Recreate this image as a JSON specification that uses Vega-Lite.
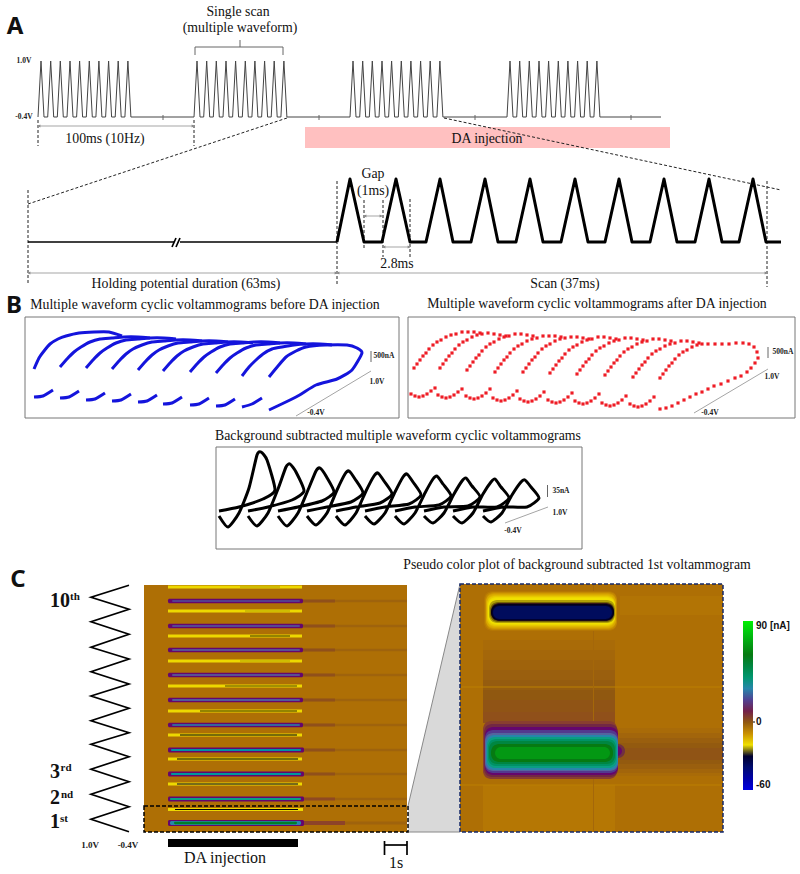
{"$schema":"https://vega.github.io/schema/vega-lite/v6.json","width":800,"height":874,"padding":0,"autosize":{"type":"fit","contains":"padding"},"background":"white","config":{"view":{"stroke":null}},
"encoding":{"x":{"field":"x","type":"quantitative","scale":{"domain":[0,800],"nice":false,"zero":false},"axis":null},"y":{"field":"y","type":"quantitative","scale":{"domain":[874,0],"nice":false,"zero":false},"axis":null}},
"layer":[
{"data":{"values":[{"x":305,"x2":670,"y":127,"y2":148}]},"mark":{"type":"rect","color":"#ffc0c0"},"encoding":{"x2":{"field":"x2"},"y2":{"field":"y2"}}},
{"data":{"values":[{"x":38,"y":117},{"x":41,"y":61},{"x":44,"y":117},{"x":47.7,"y":117},{"x":50.7,"y":61},{"x":53.7,"y":117},{"x":57.3,"y":117},{"x":60.3,"y":61},{"x":63.3,"y":117},{"x":67,"y":117},{"x":70,"y":61},{"x":73,"y":117},{"x":76.6,"y":117},{"x":79.6,"y":61},{"x":82.6,"y":117},{"x":86.3,"y":117},{"x":89.3,"y":61},{"x":92.3,"y":117},{"x":95.9,"y":117},{"x":98.9,"y":61},{"x":101.9,"y":117},{"x":105.6,"y":117},{"x":108.6,"y":61},{"x":111.6,"y":117},{"x":115.2,"y":117},{"x":118.2,"y":61},{"x":121.2,"y":117},{"x":124.9,"y":117},{"x":127.9,"y":61},{"x":130.9,"y":117},
{"x":194,"y":117},{"x":197,"y":61},{"x":200,"y":117},{"x":203.7,"y":117},{"x":206.7,"y":61},{"x":209.7,"y":117},{"x":213.3,"y":117},{"x":216.3,"y":61},{"x":219.3,"y":117},{"x":223,"y":117},{"x":226,"y":61},{"x":229,"y":117},{"x":232.6,"y":117},{"x":235.6,"y":61},{"x":238.6,"y":117},{"x":242.3,"y":117},{"x":245.3,"y":61},{"x":248.3,"y":117},{"x":251.9,"y":117},{"x":254.9,"y":61},{"x":257.9,"y":117},{"x":261.6,"y":117},{"x":264.6,"y":61},{"x":267.6,"y":117},{"x":271.2,"y":117},{"x":274.2,"y":61},{"x":277.2,"y":117},{"x":280.9,"y":117},{"x":283.9,"y":61},{"x":286.9,"y":117},
{"x":350,"y":117},{"x":353,"y":61},{"x":356,"y":117},{"x":359.7,"y":117},{"x":362.7,"y":61},{"x":365.7,"y":117},{"x":369.3,"y":117},{"x":372.3,"y":61},{"x":375.3,"y":117},{"x":379,"y":117},{"x":382,"y":61},{"x":385,"y":117},{"x":388.6,"y":117},{"x":391.6,"y":61},{"x":394.6,"y":117},{"x":398.3,"y":117},{"x":401.3,"y":61},{"x":404.3,"y":117},{"x":407.9,"y":117},{"x":410.9,"y":61},{"x":413.9,"y":117},{"x":417.6,"y":117},{"x":420.6,"y":61},{"x":423.6,"y":117},{"x":427.2,"y":117},{"x":430.2,"y":61},{"x":433.2,"y":117},{"x":436.9,"y":117},{"x":439.9,"y":61},{"x":442.9,"y":117},
{"x":507,"y":117},{"x":510,"y":61},{"x":513,"y":117},{"x":516.7,"y":117},{"x":519.7,"y":61},{"x":522.7,"y":117},{"x":526.3,"y":117},{"x":529.3,"y":61},{"x":532.3,"y":117},{"x":536,"y":117},{"x":539,"y":61},{"x":542,"y":117},{"x":545.6,"y":117},{"x":548.6,"y":61},{"x":551.6,"y":117},{"x":555.3,"y":117},{"x":558.3,"y":61},{"x":561.3,"y":117},{"x":564.9,"y":117},{"x":567.9,"y":61},{"x":570.9,"y":117},{"x":574.6,"y":117},{"x":577.6,"y":61},{"x":580.6,"y":117},{"x":584.2,"y":117},{"x":587.2,"y":61},{"x":590.2,"y":117},{"x":593.9,"y":117},{"x":596.9,"y":61},{"x":599.9,"y":117},{"x":661,"y":117}]},"mark":{"type":"line","color":"#444","strokeWidth":1},"encoding":{"order":{"value":null}}},
{"data":{"values":[{"i":"a","x":163,"y":115},{"i":"a","x":163,"y":120},{"i":"b","x":319,"y":115},{"i":"b","x":319,"y":120},{"i":"c","x":475,"y":115},{"i":"c","x":475,"y":120},{"i":"d","x":631,"y":115},{"i":"d","x":631,"y":120},{"i":"e","x":195,"y":55},{"i":"e","x":195,"y":47},{"i":"e","x":283,"y":47},{"i":"e","x":283,"y":55},{"i":"f","x":240,"y":47},{"i":"f","x":240,"y":40},{"i":"g","x":371,"y":351},{"i":"g","x":371,"y":362},{"i":"h","x":768,"y":347},{"i":"h","x":768,"y":358},{"i":"j","x":547.5,"y":485},{"i":"j","x":547.5,"y":497}]},"mark":{"type":"line","color":"#666","strokeWidth":1},"encoding":{"detail":{"field":"i"},"order":{"value":null}}},
{"data":{"values":[{"i":"a","x":38,"y":120},{"i":"a","x":38,"y":146},{"i":"b","x":194,"y":120},{"i":"b","x":194,"y":146},{"i":"c","x":287,"y":118},{"i":"c","x":28,"y":204},{"i":"d","x":444,"y":118},{"i":"d","x":781,"y":190},{"i":"e","x":28,"y":190},{"i":"e","x":28,"y":285},{"i":"f","x":337,"y":181},{"i":"f","x":337,"y":285},{"i":"g","x":364,"y":200},{"i":"g","x":364,"y":250},{"i":"h","x":383,"y":200},{"i":"h","x":383,"y":257},{"i":"j","x":410,"y":199},{"i":"j","x":410,"y":257},{"i":"k","x":767,"y":181},{"i":"k","x":767,"y":287}]},"mark":{"type":"line","color":"#222","strokeWidth":1,"strokeDash":[3,2]},"encoding":{"detail":{"field":"i"},"order":{"value":null}}},
{"data":{"values":[{"i":"a","x":38,"y":126},{"i":"a","x":194,"y":126},{"i":"b","x":364,"y":216},{"i":"b","x":382,"y":216},{"i":"c","x":383,"y":247},{"i":"c","x":410,"y":247},{"i":"d","x":28,"y":273},{"i":"d","x":337,"y":273},{"i":"e","x":337,"y":273},{"i":"e","x":767,"y":273},{"i":"f","x":296,"y":416},{"i":"f","x":371,"y":371},{"i":"g","x":694,"y":413},{"i":"g","x":768,"y":369},{"i":"h","x":505,"y":523},{"i":"h","x":548,"y":507}]},"mark":{"type":"line","color":"#a5a5a5","strokeWidth":1},"encoding":{"detail":{"field":"i"},"order":{"value":null}}},
{"data":{"values":[{"d":"l","x":39,"y":126},{"d":"r","x":193,"y":126},{"d":"l","x":365,"y":216},{"d":"r","x":381,"y":216},{"d":"l","x":384,"y":247},{"d":"r","x":409,"y":247},{"d":"l","x":29,"y":273},{"d":"r","x":336,"y":273},{"d":"l","x":338,"y":273},{"d":"r","x":766,"y":273}]},"mark":{"type":"point","filled":true,"color":"#888","opacity":1},"encoding":{"shape":{"field":"d","type":"nominal","scale":{"domain":["l","r"],"range":["triangle-left","triangle-right"]},"legend":null},"size":{"value":10}}},
{"data":{"values":[{"x":337,"y":242},{"x":350,"y":179},{"x":364,"y":242},{"x":382,"y":242},{"x":396,"y":179},{"x":410,"y":242},{"x":426,"y":242},{"x":440,"y":179},{"x":453,"y":242},{"x":471,"y":242},{"x":485,"y":179},{"x":498,"y":242},{"x":516,"y":242},{"x":530,"y":179},{"x":543,"y":242},{"x":561,"y":242},{"x":575,"y":179},{"x":588,"y":242},{"x":605,"y":242},{"x":619,"y":179},{"x":632,"y":242},{"x":650,"y":242},{"x":664,"y":179},{"x":677,"y":242},{"x":695,"y":242},{"x":709,"y":179},{"x":722,"y":242},{"x":739,"y":242},{"x":753,"y":179},{"x":766,"y":242},{"x":781,"y":242}]},"mark":{"type":"line","color":"#000","strokeWidth":3,"strokeJoin":"round"},"encoding":{"order":{"value":null}}},
{"data":{"values":[{"i":"a","x":28,"y":242},{"i":"a","x":174,"y":242},{"i":"b","x":180,"y":242},{"i":"b","x":337,"y":242},{"i":"c","x":172,"y":247},{"i":"c","x":176,"y":238},{"i":"d","x":176,"y":247},{"i":"d","x":180,"y":238},
{"i":"z","x":129,"y":831.7},{"i":"z","x":91,"y":819.3},{"i":"z","x":129,"y":806.7},{"i":"z","x":91,"y":794.3},{"i":"z","x":129,"y":781.7},{"i":"z","x":91,"y":769.3},{"i":"z","x":129,"y":756.7},{"i":"z","x":91,"y":744.3},{"i":"z","x":129,"y":732.7},{"i":"z","x":91,"y":720.7},{"i":"z","x":129,"y":708.3},{"i":"z","x":91,"y":696},{"i":"z","x":129,"y":684},{"i":"z","x":91,"y":671.7},{"i":"z","x":129,"y":659},{"i":"z","x":91,"y":647.3},{"i":"z","x":129,"y":634.3},{"i":"z","x":91,"y":621.7},{"i":"z","x":129,"y":609.3},{"i":"z","x":91,"y":597.3},{"i":"z","x":129,"y":585.3},
{"i":"s","x":384.5,"y":841},{"i":"s","x":384.5,"y":855},{"i":"t","x":407,"y":841},{"i":"t","x":407,"y":855},{"i":"u","x":384.5,"y":845},{"i":"u","x":407,"y":845}]},"mark":{"type":"line","color":"#000","strokeWidth":1.7},"encoding":{"detail":{"field":"i"},"order":{"value":null}}},
{"data":{"values":[{"x":25,"x2":399,"y":317,"y2":418},{"x":408,"x2":795,"y":317,"y2":418},{"x":216,"x2":582,"y":447,"y2":549}]},"mark":{"type":"rect","fill":null,"stroke":"#777","strokeWidth":1},"encoding":{"x2":{"field":"x2"},"y2":{"field":"y2"}}},
{"data":{"values":[
{"i":"0","x":34,"y":369},{"i":"0","x":39,"y":358},{"i":"0","x":44,"y":351},{"i":"0","x":50,"y":344},{"i":"0","x":58,"y":339},{"i":"0","x":66,"y":336},{"i":"0","x":79,"y":333},{"i":"0","x":94,"y":332},{"i":"0","x":109,"y":332},{"i":"0","x":122,"y":336},
{"i":"1","x":60,"y":367},{"i":"1","x":67,"y":359},{"i":"1","x":74,"y":352},{"i":"1","x":81,"y":347},{"i":"1","x":90,"y":342},{"i":"1","x":100,"y":339},{"i":"1","x":112,"y":338},{"i":"1","x":124,"y":337},{"i":"1","x":138,"y":337},{"i":"1","x":150,"y":338},
{"i":"2","x":86,"y":368},{"i":"2","x":93,"y":360},{"i":"2","x":100,"y":353},{"i":"2","x":107,"y":348},{"i":"2","x":116,"y":343},{"i":"2","x":126,"y":340},{"i":"2","x":138,"y":339},{"i":"2","x":150,"y":338},{"i":"2","x":164,"y":338},{"i":"2","x":176,"y":339},
{"i":"3","x":112,"y":369},{"i":"3","x":119,"y":361},{"i":"3","x":126,"y":354},{"i":"3","x":133,"y":349},{"i":"3","x":142,"y":345},{"i":"3","x":152,"y":342},{"i":"3","x":164,"y":341},{"i":"3","x":176,"y":340},{"i":"3","x":190,"y":340},{"i":"3","x":202,"y":341},
{"i":"4","x":138,"y":370},{"i":"4","x":145,"y":362},{"i":"4","x":152,"y":355},{"i":"4","x":159,"y":350},{"i":"4","x":168,"y":346},{"i":"4","x":178,"y":343},{"i":"4","x":190,"y":342},{"i":"4","x":202,"y":341},{"i":"4","x":216,"y":341},{"i":"4","x":228,"y":342},
{"i":"5","x":163,"y":371},{"i":"5","x":170,"y":363},{"i":"5","x":177,"y":356},{"i":"5","x":184,"y":351},{"i":"5","x":193,"y":347},{"i":"5","x":203,"y":344},{"i":"5","x":215,"y":343},{"i":"5","x":227,"y":342},{"i":"5","x":241,"y":342},{"i":"5","x":253,"y":343},
{"i":"6","x":190,"y":372},{"i":"6","x":197,"y":364},{"i":"6","x":204,"y":357},{"i":"6","x":211,"y":352},{"i":"6","x":220,"y":347},{"i":"6","x":230,"y":344},{"i":"6","x":242,"y":343},{"i":"6","x":254,"y":342},{"i":"6","x":268,"y":342},{"i":"6","x":280,"y":343},
{"i":"7","x":216,"y":373},{"i":"7","x":223,"y":365},{"i":"7","x":230,"y":358},{"i":"7","x":237,"y":353},{"i":"7","x":246,"y":348},{"i":"7","x":256,"y":345},{"i":"7","x":268,"y":344},{"i":"7","x":280,"y":343},{"i":"7","x":294,"y":343},{"i":"7","x":306,"y":344},
{"i":"8","x":242,"y":376},{"i":"8","x":249,"y":367},{"i":"8","x":256,"y":360},{"i":"8","x":263,"y":354},{"i":"8","x":272,"y":349},{"i":"8","x":282,"y":347},{"i":"8","x":294,"y":345},{"i":"8","x":306,"y":344},{"i":"8","x":320,"y":344},{"i":"8","x":332,"y":345},
{"i":"9","x":269,"y":377},{"i":"9","x":278,"y":366},{"i":"9","x":286,"y":357},{"i":"9","x":296,"y":351},{"i":"9","x":306,"y":347},{"i":"9","x":325,"y":345},{"i":"9","x":347,"y":345},{"i":"9","x":357,"y":348},{"i":"9","x":362,"y":353},{"i":"9","x":352,"y":370},{"i":"9","x":337,"y":379},{"i":"9","x":316,"y":385},{"i":"9","x":296,"y":397},{"i":"9","x":269,"y":410},
{"i":"l0","x":34,"y":397},{"i":"l0","x":43,"y":396},{"i":"l0","x":53,"y":390},{"i":"l1","x":60,"y":398},{"i":"l1","x":69,"y":397},{"i":"l1","x":79,"y":391},{"i":"l2","x":86,"y":400},{"i":"l2","x":95,"y":399},{"i":"l2","x":105,"y":393},{"i":"l3","x":112,"y":401},{"i":"l3","x":121,"y":400},{"i":"l3","x":131,"y":394},{"i":"l4","x":138,"y":402},{"i":"l4","x":147,"y":401},{"i":"l4","x":157,"y":395},{"i":"l5","x":163,"y":404},{"i":"l5","x":172,"y":403},{"i":"l5","x":182,"y":397},{"i":"l6","x":190,"y":405},{"i":"l6","x":199,"y":404},{"i":"l6","x":209,"y":398},{"i":"l7","x":216,"y":406},{"i":"l7","x":225,"y":405},{"i":"l7","x":235,"y":399},{"i":"l8","x":242,"y":407},{"i":"l8","x":252,"y":404},{"i":"l8","x":262,"y":398}]},"mark":{"type":"line","color":"#1414dc","strokeWidth":3,"interpolate":"cardinal","tension":0.4},"encoding":{"detail":{"field":"i"},"order":{"value":null}}},
{"data":{"values":[
{"x":414,"y":368},{"x":417,"y":364},{"x":420,"y":360},{"x":423,"y":356},{"x":426,"y":353},{"x":429,"y":349},{"x":433,"y":345},{"x":437,"y":342},{"x":441,"y":340},{"x":446,"y":337},{"x":451,"y":335},{"x":456,"y":334},{"x":462,"y":332},{"x":468,"y":332},{"x":474,"y":332},{"x":480,"y":333},
{"x":440,"y":368},{"x":443,"y":364},{"x":446,"y":360},{"x":449,"y":356},{"x":452,"y":353},{"x":455,"y":349},{"x":459,"y":345},{"x":463,"y":342},{"x":467,"y":340},{"x":472,"y":337},{"x":477,"y":335},{"x":482,"y":334},{"x":488,"y":333},{"x":494,"y":334},{"x":500,"y":335},{"x":506,"y":336},
{"x":467,"y":370},{"x":470,"y":366},{"x":473,"y":362},{"x":476,"y":358},{"x":479,"y":355},{"x":482,"y":351},{"x":486,"y":347},{"x":490,"y":344},{"x":494,"y":342},{"x":499,"y":339},{"x":504,"y":337},{"x":509,"y":336},{"x":515,"y":334},{"x":521,"y":334},{"x":527,"y":335},{"x":533,"y":336},
{"x":495,"y":372},{"x":498,"y":368},{"x":501,"y":364},{"x":504,"y":360},{"x":507,"y":357},{"x":510,"y":353},{"x":514,"y":349},{"x":518,"y":346},{"x":522,"y":344},{"x":527,"y":341},{"x":532,"y":339},{"x":537,"y":338},{"x":543,"y":336},{"x":549,"y":336},{"x":555,"y":336},{"x":561,"y":337},
{"x":523,"y":372},{"x":526,"y":368},{"x":529,"y":364},{"x":532,"y":360},{"x":535,"y":357},{"x":538,"y":353},{"x":542,"y":349},{"x":546,"y":346},{"x":550,"y":344},{"x":555,"y":341},{"x":560,"y":339},{"x":565,"y":338},{"x":571,"y":337},{"x":577,"y":337},{"x":583,"y":338},{"x":589,"y":339},
{"x":550,"y":373},{"x":553,"y":369},{"x":556,"y":365},{"x":559,"y":361},{"x":562,"y":358},{"x":565,"y":354},{"x":569,"y":350},{"x":573,"y":347},{"x":577,"y":345},{"x":582,"y":342},{"x":587,"y":340},{"x":592,"y":339},{"x":598,"y":337},{"x":604,"y":337},{"x":610,"y":338},{"x":616,"y":339},
{"x":577,"y":374},{"x":580,"y":370},{"x":583,"y":366},{"x":586,"y":362},{"x":589,"y":359},{"x":592,"y":355},{"x":596,"y":351},{"x":600,"y":348},{"x":604,"y":346},{"x":609,"y":343},{"x":614,"y":341},{"x":619,"y":340},{"x":625,"y":338},{"x":631,"y":338},{"x":637,"y":339},{"x":643,"y":340},
{"x":605,"y":375},{"x":608,"y":371},{"x":611,"y":367},{"x":614,"y":363},{"x":617,"y":360},{"x":620,"y":356},{"x":624,"y":352},{"x":628,"y":349},{"x":632,"y":347},{"x":637,"y":344},{"x":642,"y":342},{"x":647,"y":341},{"x":653,"y":339},{"x":659,"y":339},{"x":665,"y":340},{"x":671,"y":341},
{"x":633,"y":377},{"x":636,"y":373},{"x":639,"y":369},{"x":642,"y":365},{"x":645,"y":362},{"x":648,"y":358},{"x":652,"y":354},{"x":656,"y":351},{"x":660,"y":349},{"x":665,"y":346},{"x":670,"y":344},{"x":675,"y":343},{"x":681,"y":341},{"x":687,"y":341},{"x":693,"y":342},{"x":699,"y":343},
{"x":660,"y":378},{"x":663,"y":374},{"x":666,"y":370},{"x":669,"y":366},{"x":672,"y":363},{"x":675,"y":359},{"x":679,"y":355},{"x":683,"y":352},{"x":687,"y":350},{"x":692,"y":347},{"x":697,"y":345},{"x":702,"y":344},{"x":708,"y":344},{"x":715,"y":344},{"x":722,"y":344},{"x":729,"y":344},{"x":736,"y":343},{"x":743,"y":343},{"x":749,"y":344},{"x":754,"y":347},{"x":757,"y":352},{"x":758,"y":358},{"x":755,"y":363},{"x":751,"y":368},{"x":747,"y":372},{"x":741,"y":376},{"x":735,"y":378},{"x":728,"y":381},{"x":721,"y":384},{"x":714,"y":386},{"x":708,"y":389},{"x":702,"y":392},{"x":696,"y":394},{"x":690,"y":397},{"x":684,"y":400},{"x":678,"y":403},{"x":672,"y":406},{"x":666,"y":408},{"x":660,"y":409},
{"x":411,"y":394},{"x":415,"y":396},{"x":419,"y":397},{"x":423,"y":396},{"x":427,"y":394},{"x":431,"y":391},{"x":435,"y":388},
{"x":438,"y":395},{"x":442,"y":397},{"x":446,"y":398},{"x":450,"y":397},{"x":454,"y":395},{"x":458,"y":392},{"x":462,"y":389},
{"x":466,"y":396},{"x":470,"y":398},{"x":474,"y":399},{"x":478,"y":398},{"x":482,"y":396},{"x":486,"y":393},{"x":490,"y":389},
{"x":493,"y":398},{"x":497,"y":400},{"x":501,"y":401},{"x":505,"y":400},{"x":509,"y":398},{"x":513,"y":395},{"x":517,"y":391},
{"x":520,"y":399},{"x":524,"y":401},{"x":528,"y":402},{"x":532,"y":401},{"x":536,"y":399},{"x":540,"y":396},{"x":544,"y":392},
{"x":548,"y":400},{"x":552,"y":402},{"x":556,"y":403},{"x":560,"y":402},{"x":564,"y":400},{"x":568,"y":397},{"x":572,"y":393},
{"x":575,"y":401},{"x":579,"y":403},{"x":583,"y":404},{"x":587,"y":403},{"x":591,"y":401},{"x":595,"y":398},{"x":599,"y":394},
{"x":602,"y":403},{"x":606,"y":405},{"x":610,"y":406},{"x":614,"y":405},{"x":618,"y":403},{"x":622,"y":400},{"x":626,"y":396},
{"x":630,"y":404},{"x":634,"y":406},{"x":638,"y":407},{"x":642,"y":406},{"x":646,"y":404},{"x":650,"y":401},{"x":654,"y":397}]},"mark":{"type":"point","filled":true,"shape":"square","size":10,"color":"#ee1c25","opacity":1}},
{"data":{"values":[
{"i":"0","x":219,"y":516},{"i":"0","x":228,"y":527},{"i":"0","x":239,"y":513},{"i":"0","x":249,"y":488},{"i":"0","x":257,"y":455},{"i":"0","x":261,"y":452},{"i":"0","x":267,"y":460},{"i":"0","x":275,"y":490},{"i":"0","x":263,"y":499},{"i":"0","x":239,"y":507},{"i":"0","x":219,"y":511},
{"i":"1","x":248,"y":516},{"i":"1","x":257,"y":526},{"i":"1","x":268,"y":513},{"i":"1","x":278,"y":489},{"i":"1","x":286,"y":467},{"i":"1","x":290,"y":464},{"i":"1","x":296,"y":472},{"i":"1","x":304,"y":491},{"i":"1","x":292,"y":500},{"i":"1","x":268,"y":507},{"i":"1","x":248,"y":511},
{"i":"2","x":278,"y":516},{"i":"2","x":287,"y":526},{"i":"2","x":298,"y":513},{"i":"2","x":308,"y":490},{"i":"2","x":316,"y":471},{"i":"2","x":320,"y":468},{"i":"2","x":326,"y":476},{"i":"2","x":334,"y":492},{"i":"2","x":322,"y":501},{"i":"2","x":298,"y":507},{"i":"2","x":278,"y":511},
{"i":"3","x":307,"y":516},{"i":"3","x":316,"y":525},{"i":"3","x":327,"y":513},{"i":"3","x":337,"y":490},{"i":"3","x":345,"y":474},{"i":"3","x":349,"y":471},{"i":"3","x":355,"y":479},{"i":"3","x":363,"y":493},{"i":"3","x":351,"y":502},{"i":"3","x":327,"y":507},{"i":"3","x":307,"y":511},
{"i":"4","x":336,"y":516},{"i":"4","x":345,"y":525},{"i":"4","x":356,"y":513},{"i":"4","x":366,"y":491},{"i":"4","x":374,"y":476},{"i":"4","x":378,"y":473},{"i":"4","x":384,"y":481},{"i":"4","x":392,"y":494},{"i":"4","x":380,"y":503},{"i":"4","x":356,"y":507},{"i":"4","x":336,"y":511},
{"i":"5","x":365,"y":516},{"i":"5","x":374,"y":524},{"i":"5","x":385,"y":513},{"i":"5","x":395,"y":492},{"i":"5","x":403,"y":477},{"i":"5","x":407,"y":474},{"i":"5","x":413,"y":482},{"i":"5","x":421,"y":495},{"i":"5","x":409,"y":504},{"i":"5","x":385,"y":507},{"i":"5","x":365,"y":511},
{"i":"6","x":395,"y":516},{"i":"6","x":404,"y":524},{"i":"6","x":415,"y":513},{"i":"6","x":425,"y":493},{"i":"6","x":433,"y":479},{"i":"6","x":437,"y":476},{"i":"6","x":443,"y":484},{"i":"6","x":451,"y":496},{"i":"6","x":439,"y":505},{"i":"6","x":415,"y":507},{"i":"6","x":395,"y":511},
{"i":"7","x":424,"y":516},{"i":"7","x":433,"y":523},{"i":"7","x":444,"y":513},{"i":"7","x":454,"y":494},{"i":"7","x":462,"y":481},{"i":"7","x":466,"y":478},{"i":"7","x":472,"y":486},{"i":"7","x":480,"y":497},{"i":"7","x":468,"y":506},{"i":"7","x":444,"y":507},{"i":"7","x":424,"y":511},
{"i":"8","x":453,"y":516},{"i":"8","x":462,"y":523},{"i":"8","x":473,"y":513},{"i":"8","x":483,"y":494},{"i":"8","x":491,"y":482},{"i":"8","x":495,"y":479},{"i":"8","x":501,"y":487},{"i":"8","x":509,"y":498},{"i":"8","x":497,"y":507},{"i":"8","x":473,"y":507},{"i":"8","x":453,"y":511},
{"i":"9","x":483,"y":516},{"i":"9","x":491,"y":522},{"i":"9","x":502,"y":513},{"i":"9","x":512,"y":495},{"i":"9","x":521,"y":482},{"i":"9","x":525,"y":480},{"i":"9","x":531,"y":487},{"i":"9","x":539,"y":498},{"i":"9","x":527,"y":507},{"i":"9","x":503,"y":507},{"i":"9","x":483,"y":511}]},"mark":{"type":"line","color":"#000","strokeWidth":3,"interpolate":"cardinal","tension":0.4},"encoding":{"detail":{"field":"i"},"order":{"value":null}}},
{"data":{"values":[{"x":408,"y":806,"y2":832},{"x":460,"y":584,"y2":832}]},"mark":{"type":"area","color":"#d9d9d9","opacity":1},"encoding":{"y2":{"field":"y2"}}},
{"data":{"values":[{"i":"a","x":408,"y":806},{"i":"a","x":460,"y":584},{"i":"b","x":408,"y":832},{"i":"b","x":460,"y":832}]},"mark":{"type":"line","color":"#888","strokeWidth":1},"encoding":{"detail":{"field":"i"},"order":{"value":null}}},
{"data":{"values":[
{"x":144,"x2":407,"y":585,"y2":832,"n":-6},
{"x":300,"x2":407,"y":821.5,"y2":824.5,"n":-3},{"x":300,"x2":345,"y":821,"y2":825,"n":3},{"x":300,"x2":407,"y":797.8,"y2":800.2,"n":-3},{"x":300,"x2":335,"y":797.5,"y2":800.5,"n":2},{"x":300,"x2":407,"y":772.8,"y2":775.2,"n":-3},{"x":300,"x2":335,"y":772.5,"y2":775.5,"n":1},{"x":300,"x2":407,"y":748.8,"y2":751.2,"n":-3},{"x":300,"x2":335,"y":748.5,"y2":751.5,"n":1},{"x":300,"x2":407,"y":723.8,"y2":726.2,"n":-3},{"x":300,"x2":335,"y":723.5,"y2":726.5,"n":1},{"x":300,"x2":407,"y":698.8,"y2":701.2,"n":-3},{"x":300,"x2":335,"y":698.5,"y2":701.5,"n":1},{"x":300,"x2":407,"y":673.8,"y2":676.2,"n":-3},{"x":300,"x2":335,"y":673.5,"y2":676.5,"n":1},{"x":300,"x2":407,"y":648.8,"y2":651.2,"n":-3},{"x":300,"x2":335,"y":648.5,"y2":651.5,"n":1},{"x":300,"x2":407,"y":624.8,"y2":627.2,"n":-3},{"x":300,"x2":335,"y":624.5,"y2":627.5,"n":1},{"x":300,"x2":407,"y":599.8,"y2":602.2,"n":-3},{"x":300,"x2":335,"y":599.5,"y2":602.5,"n":1},
{"x":168,"x2":303,"y":808,"y2":811,"n":-19},{"x":175,"x2":298,"y":809.1,"y2":809.9,"n":-24},
{"x":168,"x2":302,"y":782.5,"y2":785.5,"n":-19},{"x":177,"x2":298,"y":783.5,"y2":784.5,"n":-30},
{"x":168,"x2":302,"y":757.5,"y2":760.5,"n":-19},{"x":177,"x2":298,"y":758.5,"y2":759.5,"n":-24},
{"x":168,"x2":302,"y":733.5,"y2":736.5,"n":-19},{"x":180,"x2":297,"y":734.5,"y2":735.5,"n":-24},
{"x":168,"x2":302,"y":709.5,"y2":712.5,"n":-19},{"x":200,"x2":297,"y":710.5,"y2":711.5,"n":-23},
{"x":168,"x2":302,"y":684.5,"y2":687.5,"n":-19},{"x":225,"x2":297,"y":685.5,"y2":686.5,"n":-22.5},
{"x":168,"x2":302,"y":659.5,"y2":662.5,"n":-19},{"x":240,"x2":290,"y":660.5,"y2":661.5,"n":-21},
{"x":168,"x2":302,"y":634.5,"y2":637.5,"n":-19},{"x":250,"x2":290,"y":635.5,"y2":636.5,"n":-23},
{"x":168,"x2":302,"y":609.5,"y2":612.5,"n":-19},{"x":245,"x2":290,"y":610.5,"y2":611.5,"n":-21},
{"x":168,"x2":302,"y":585.5,"y2":588.5,"n":-19},{"x":240,"x2":280,"y":586.5,"y2":587.5,"n":-21}]},"mark":{"type":"rect"},"encoding":{"x2":{"field":"x2"},"y2":{"field":"y2"},"color":{"field":"n","type":"quantitative","scale":{"domain":[-60,-45,-30,-23.5,-23,-20,-11,-6,0,8,15,27,35,46,60,90],"range":["#0000e0","#000090","#000030","#000010","#3a3000","#f0e000","#d09a00","#ae6f05","#905810","#703040","#5a0a78","#5a70a0","#10a088","#0a8a50","#067a12","#00f000"]},"legend":{"orient":"none","legendX":743,"legendY":621,"title":null,"gradientLength":169,"gradientThickness":10,"values":[-60,0,90],"labelFont":"Liberation Sans","labelFontWeight":"bold","labelFontSize":10,"labelColor":"#111","labelOffset":3,"labelExpr":"datum.value==90?'90 [nA]':datum.value==-60?'-60':'0'"}}}},
{"data":{"values":[
{"x":168,"x2":304,"y":820,"y2":826,"n":14},{"x":170,"x2":301,"y":821,"y2":825,"n":30},{"x":174,"x2":297,"y":821.8,"y2":824.2,"n":56},
{"x":168,"x2":304,"y":796.5,"y2":801.5,"n":14},{"x":170,"x2":301,"y":798,"y2":800,"n":36},
{"x":168,"x2":304,"y":771.5,"y2":776.5,"n":14},{"x":171,"x2":301,"y":773,"y2":775,"n":33},
{"x":168,"x2":304,"y":747.5,"y2":752.5,"n":14},{"x":171,"x2":301,"y":749,"y2":751,"n":32},
{"x":168,"x2":303,"y":722.8,"y2":727.2,"n":14},{"x":172,"x2":300,"y":724.2,"y2":725.8,"n":30},
{"x":168,"x2":303,"y":697.8,"y2":702.2,"n":14},{"x":172,"x2":300,"y":699.2,"y2":700.8,"n":28},
{"x":168,"x2":303,"y":672.8,"y2":677.2,"n":14},{"x":172,"x2":300,"y":674.2,"y2":675.8,"n":26},
{"x":168,"x2":303,"y":647.8,"y2":652.2,"n":14},{"x":172,"x2":300,"y":649.2,"y2":650.8,"n":26},
{"x":168,"x2":303,"y":623.8,"y2":628.2,"n":14},{"x":172,"x2":300,"y":625.2,"y2":626.8,"n":24},
{"x":168,"x2":303,"y":598.8,"y2":603.2,"n":14},{"x":172,"x2":300,"y":600.2,"y2":601.8,"n":22},
{"x":460,"x2":723,"y":584,"y2":832,"n":-6}]},"mark":{"type":"rect","cornerRadius":1.5},"encoding":{"x2":{"field":"x2"},"y2":{"field":"y2"},"color":{"field":"n","type":"quantitative","scale":{"domain":[-60,-45,-30,-23.5,-23,-20,-11,-6,0,8,15,27,35,46,60,90],"range":["#0000e0","#000090","#000030","#000010","#3a3000","#f0e000","#d09a00","#ae6f05","#905810","#703040","#5a0a78","#5a70a0","#10a088","#0a8a50","#067a12","#00f000"]},"legend":{"orient":"none","legendX":743,"legendY":621,"title":null,"gradientLength":169,"gradientThickness":10,"values":[-60,0,90],"labelFont":"Liberation Sans","labelFontWeight":"bold","labelFontSize":10,"labelColor":"#111","labelOffset":3,"labelExpr":"datum.value==90?'90 [nA]':datum.value==-60?'-60':'0'"}}}},
{"data":{"values":[
{"x":620,"x2":723,"y":596,"y2":615,"n":-6.6},
{"x":483,"x2":615,"y":640,"y2":650,"n":-5},{"x":483,"x2":615,"y":650,"y2":660,"n":-4},{"x":483,"x2":615,"y":660,"y2":670,"n":-3},{"x":483,"x2":615,"y":670,"y2":680,"n":-2},{"x":483,"x2":615,"y":680,"y2":690,"n":-1},{"x":483,"x2":615,"y":690,"y2":700,"n":0},{"x":483,"x2":615,"y":700,"y2":712,"n":0.5},{"x":483,"x2":615,"y":712,"y2":723,"n":1},
{"x":615,"x2":723,"y":728,"y2":776,"n":-5},{"x":615,"x2":723,"y":733,"y2":773,"n":-3.5},{"x":615,"x2":723,"y":738,"y2":769,"n":-2},{"x":615,"x2":723,"y":743,"y2":764,"n":-0.5},{"x":620,"x2":723,"y":748,"y2":760,"n":0.5},
{"x":483,"x2":615,"y":785,"y2":832,"n":-7},
{"x":460,"x2":723,"y":686.6,"y2":687.4,"n":-8},{"x":460,"x2":723,"y":784.6,"y2":785.4,"n":-8},{"x":593,"x2":594,"y":584,"y2":832,"n":-4}]},"mark":{"type":"rect"},"encoding":{"x2":{"field":"x2"},"y2":{"field":"y2"},"color":{"field":"n","type":"quantitative","scale":{"domain":[-60,-45,-30,-23.5,-23,-20,-11,-6,0,8,15,27,35,46,60,90],"range":["#0000e0","#000090","#000030","#000010","#3a3000","#f0e000","#d09a00","#ae6f05","#905810","#703040","#5a0a78","#5a70a0","#10a088","#0a8a50","#067a12","#00f000"]},"legend":{"orient":"none","legendX":743,"legendY":621,"title":null,"gradientLength":169,"gradientThickness":10,"values":[-60,0,90],"labelFont":"Liberation Sans","labelFontWeight":"bold","labelFontSize":10,"labelColor":"#111","labelOffset":3,"labelExpr":"datum.value==90?'90 [nA]':datum.value==-60?'-60':'0'"}}}},
{"data":{"values":[
{"x":484,"x2":617,"y":591,"y2":631,"n":-7},{"x":485,"x2":617,"y":592,"y2":630,"n":-9},{"x":486,"x2":616,"y":593,"y2":629,"n":-11},{"x":486,"x2":616,"y":594,"y2":628,"n":-13},{"x":487,"x2":615,"y":595,"y2":627,"n":-15},{"x":487,"x2":615,"y":596,"y2":626,"n":-17},{"x":488,"x2":615,"y":597,"y2":625,"n":-19},{"x":488,"x2":615,"y":598,"y2":624,"n":-20},{"x":489,"x2":615,"y":600,"y2":623,"n":-21},{"x":490,"x2":614.5,"y":602,"y2":622,"n":-22},{"x":491,"x2":614,"y":603,"y2":621,"n":-23.2},{"x":491,"x2":614,"y":604,"y2":620.5,"n":-25},{"x":492,"x2":613,"y":605,"y2":620,"n":-30},{"x":493,"x2":612,"y":606,"y2":619,"n":-37},
{"x":606,"x2":625,"y":744,"y2":758,"n":8},{"x":606,"x2":622,"y":746,"y2":756,"n":14},
{"x":483,"x2":617,"y":721,"y2":779,"n":4},{"x":484,"x2":618,"y":724,"y2":777,"n":9},{"x":485,"x2":618,"y":727,"y2":775,"n":14},{"x":485,"x2":618,"y":730,"y2":773,"n":19},{"x":485,"x2":618,"y":733,"y2":771,"n":25},{"x":486,"x2":618,"y":735,"y2":770,"n":30},{"x":487,"x2":617,"y":737,"y2":768,"n":36},{"x":488,"x2":616,"y":739,"y2":766,"n":42},{"x":489,"x2":615,"y":741,"y2":764,"n":50},{"x":491,"x2":613,"y":744,"y2":762,"n":60},{"x":495,"x2":610,"y":747,"y2":759,"n":68}]},"mark":{"type":"rect","cornerRadius":8},"encoding":{"x2":{"field":"x2"},"y2":{"field":"y2"},"color":{"field":"n","type":"quantitative","scale":{"domain":[-60,-45,-30,-23.5,-23,-20,-11,-6,0,8,15,27,35,46,60,90],"range":["#0000e0","#000090","#000030","#000010","#3a3000","#f0e000","#d09a00","#ae6f05","#905810","#703040","#5a0a78","#5a70a0","#10a088","#0a8a50","#067a12","#00f000"]},"legend":{"orient":"none","legendX":743,"legendY":621,"title":null,"gradientLength":169,"gradientThickness":10,"values":[-60,0,90],"labelFont":"Liberation Sans","labelFontWeight":"bold","labelFontSize":10,"labelColor":"#111","labelOffset":3,"labelExpr":"datum.value==90?'90 [nA]':datum.value==-60?'-60':'0'"}}}},
{"data":{"values":[{"x":144,"x2":408,"y":806,"y2":832}]},"mark":{"type":"rect","fill":null,"stroke":"#000","strokeWidth":1.5,"strokeDash":[4,2]},"encoding":{"x2":{"field":"x2"},"y2":{"field":"y2"}}},
{"data":{"values":[{"x":460,"x2":723,"y":584,"y2":832}]},"mark":{"type":"rect","fill":null,"stroke":"#14286a","strokeWidth":1.5,"strokeDash":[4,2]},"encoding":{"x2":{"field":"x2"},"y2":{"field":"y2"}}},
{"data":{"values":[{"x":168,"x2":298,"y":839,"y2":847}]},"mark":{"type":"rect","color":"#000"},"encoding":{"x2":{"field":"x2"},"y2":{"field":"y2"}}},
{"data":{"values":[{"i":"a","x":743,"y":722},{"i":"a","x":755,"y":722}]},"mark":{"type":"line","color":"#000","strokeWidth":1},"encoding":{"order":{"value":null}}},
{"data":{"values":[{"t":"Single scan","x":238,"y":12},{"t":"(multiple waveform)","x":240,"y":28},{"t":"100ms (10Hz)","x":105,"y":139},{"t":"DA injection","x":487,"y":139},{"t":"Gap","x":373,"y":174},{"t":"(1ms)","x":373,"y":191},{"t":"2.8ms","x":397,"y":264},{"t":"Holding potential duration (63ms)","x":186,"y":284},{"t":"Scan (37ms)","x":565,"y":284},{"t":"Multiple waveform cyclic voltammograms before DA injection","x":205,"y":305},{"t":"Multiple waveform cyclic voltammograms after DA injection","x":597,"y":304},{"t":"Background subtracted multiple waveform cyclic voltammograms","x":398,"y":436},{"t":"Pseudo color plot of background subtracted 1st voltammogram","x":577,"y":565}]},"mark":{"type":"text","font":"Liberation Serif","fontSize":13.8,"color":"#111","baseline":"middle","align":"center"},"encoding":{"text":{"field":"t"}}},
{"data":{"values":[{"t":"DA injection","x":225,"y":858},{"t":"1s","x":396,"y":863}]},"mark":{"type":"text","font":"Liberation Serif","fontSize":16,"color":"#111","baseline":"middle","align":"center"},"encoding":{"text":{"field":"t"}}},
{"data":{"values":[{"t":"1.0V","x":24,"y":61},{"t":"-0.4V","x":24,"y":117},{"t":"500nA","x":384,"y":356},{"t":"1.0V","x":377,"y":382},{"t":"-0.4V","x":316,"y":413},{"t":"500nA","x":783,"y":352},{"t":"1.0V","x":772,"y":377},{"t":"-0.4V","x":710,"y":413},{"t":"35nA","x":561,"y":491},{"t":"1.0V","x":560,"y":513},{"t":"-0.4V","x":513,"y":531}]},"mark":{"type":"text","font":"Liberation Serif","fontWeight":"bold","fontSize":7.5,"color":"#222","baseline":"middle","align":"center"},"encoding":{"text":{"field":"t"}}},
{"data":{"values":[{"t":"1.0V","x":90,"y":845},{"t":"-0.4V","x":128,"y":845}]},"mark":{"type":"text","font":"Liberation Serif","fontWeight":"bold","fontSize":9,"color":"#222","baseline":"middle","align":"center"},"encoding":{"text":{"field":"t"}}},
{"data":{"values":[{"t":"A","x":15,"y":27},{"t":"B","x":14,"y":306},{"t":"C","x":18,"y":580}]},"mark":{"type":"text","font":"Noto Sans","fontWeight":"bold","fontSize":24,"color":"#111","baseline":"middle","align":"center"},"encoding":{"text":{"field":"t"}}},
{"data":{"values":[{"t":"10","x":60,"y":601},{"t":"3","x":55,"y":772},{"t":"2","x":55,"y":798},{"t":"1","x":55,"y":822}]},"mark":{"type":"text","font":"Liberation Serif","fontWeight":"bold","fontSize":20,"color":"#111","baseline":"middle","align":"center"},"encoding":{"text":{"field":"t"}}},
{"data":{"values":[{"t":"th","x":75,"y":597},{"t":"rd","x":66,"y":768},{"t":"nd","x":67,"y":795},{"t":"st","x":64,"y":819}]},"mark":{"type":"text","font":"Liberation Serif","fontWeight":"bold","fontSize":11,"color":"#111","baseline":"middle","align":"center"},"encoding":{"text":{"field":"t"}}}
]}
